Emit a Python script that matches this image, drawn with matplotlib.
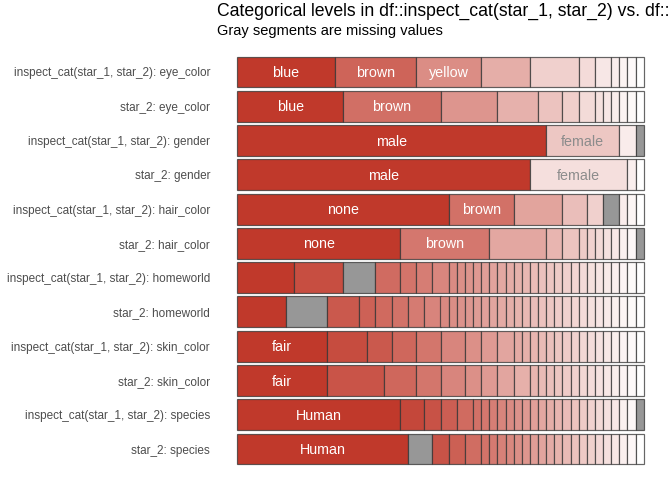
import numpy as np
import matplotlib.pyplot as plt

plt.rcParams['font.family'] = ['Liberation Sans', 'DejaVu Sans']

# rows from top to bottom
row_labels = [
    'inspect_cat(star_1, star_2): eye_color',
    'star_2: eye_color',
    'inspect_cat(star_1, star_2): gender',
    'star_2: gender',
    'inspect_cat(star_1, star_2): hair_color',
    'star_2: hair_color',
    'inspect_cat(star_1, star_2): homeworld',
    'star_2: homeworld',
    'inspect_cat(star_1, star_2): skin_color',
    'star_2: skin_color',
    'inspect_cat(star_1, star_2): species',
    'star_2: species',
]

# counts of each level (out of 50), in plotted order
counts = [
    [12, 10, 8, 6, 6, 2, 2, 1, 1, 1, 1],
    [13, 12, 7, 5, 3, 2, 2, 1, 1, 1, 1, 1, 1],
    [38, 9, 2, 1],
    [36, 12, 1, 1],
    [26, 8, 6, 3, 2, 2, 1, 1, 1],
    [20, 11, 7, 2, 2] + [1] * 8,
    [7, 6, 4, 3, 2, 2, 2] + [1] * 24,
    [6, 5, 4, 2, 2, 2, 2, 2] + [1] * 25,
    [11, 5, 3, 3, 3, 3, 2, 2, 2] + [1] * 16,
    [11, 7, 4, 3, 3, 2, 2, 2, 2] + [1] * 14,
    [20, 3, 2, 2, 2] + [1] * 21,
    [21, 3, 2, 2, 2] + [1] * 20,
]

# index of the missing-value segment in each row (None = no NA)
na_index = [None, None, 3, None, 5, 12, 2, 1, None, None, 25, 1]

# names of the level shown on the widest segments
level_names = [
    ['blue', 'brown', 'yellow'],
    ['blue', 'brown'],
    ['male', 'female'],
    ['male', 'female'],
    ['none', 'brown'],
    ['none', 'brown'],
    [],
    [],
    ['fair'],
    ['fair'],
    ['Human'],
    ['Human'],
]

title = 'Categorical levels in df::inspect_cat(star_1, star_2) vs. df::'
subtitle = 'Gray segments are missing values'

dark = np.array([192, 57, 43]) / 255
white = np.array([1.0, 1.0, 1.0])

fig = plt.figure(figsize=(7, 5), dpi=96)
ax = fig.add_axes([217 / 672, 1 - 469.6 / 480, 447 / 672, (469.6 - 51.4) / 480])

for i, cnt in enumerate(counts):
    props = np.array(cnt) / sum(cnt)
    ends = np.cumsum(props)
    starts = ends - props
    t_all = (ends - ends[0]) / (ends[-1] - ends[0])
    for j, p in enumerate(props):
        if j == na_index[i]:
            col = '#979797'
            t = None
        else:
            t = t_all[j] ** 1.15
            col = dark + (white - dark) * t
        ax.barh(i, p, left=starts[j], height=0.9, color=col,
                edgecolor=(0.2, 0.2, 0.2, 0.75), linewidth=0.9)
        if j < len(level_names[i]) and p >= 0.15:
            tc = 'white' if t < 0.6 else '#8c8c8c'
            ax.text(starts[j] + p / 2, i + 0.03, level_names[i][j], ha='center',
                    va='center', color=tc, fontsize=10.7)

ax.set_xlim(-0.05, 1.05)
ax.set_ylim(len(counts) - 0.4, -0.6)
ax.set_yticks(range(len(counts)))
ax.set_yticklabels(row_labels, fontsize=8.8, color='#4d4d4d')
ax.set_xticks([])
ax.tick_params(axis='y', length=0, pad=5.2)
for s in ax.spines.values():
    s.set_visible(False)

fig.text(217 / 672, 1 - 16 / 480, title, fontsize=13.2, va='baseline', ha='left')
fig.text(217 / 672, 1 - 35 / 480, subtitle, fontsize=11, va='baseline', ha='left')

fig.savefig('out.png', dpi=96)
